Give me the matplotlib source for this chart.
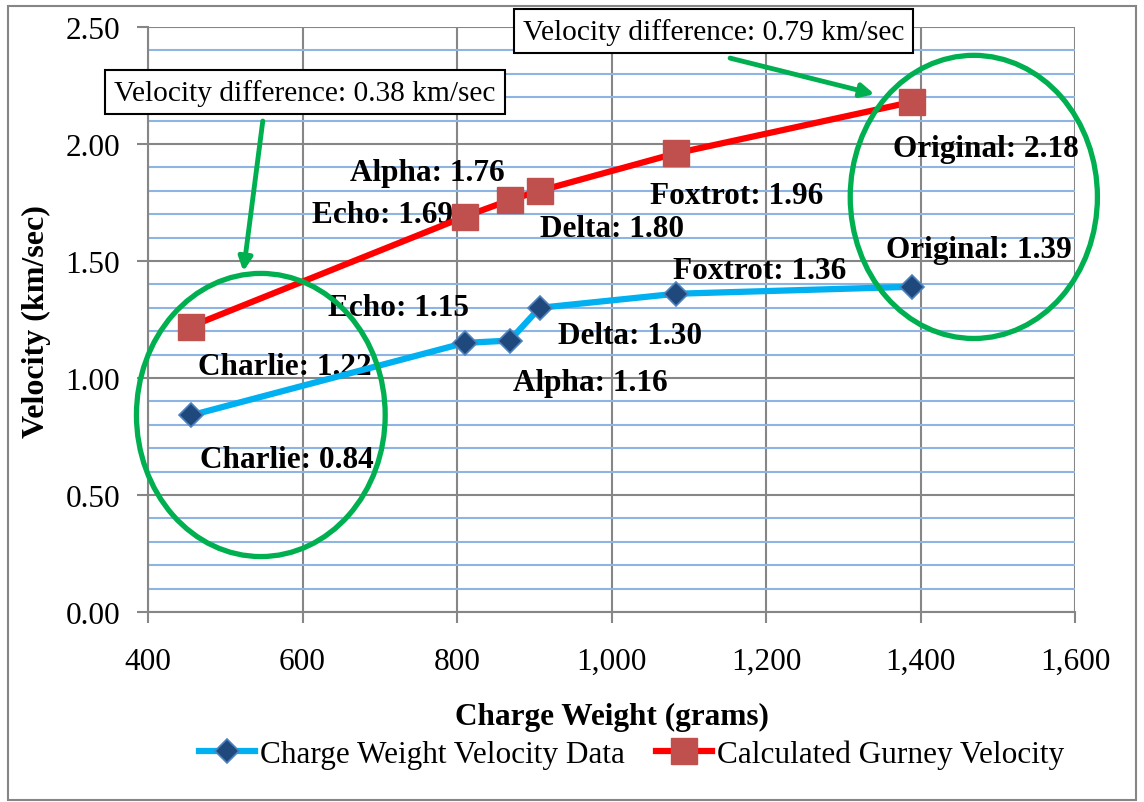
import matplotlib
matplotlib.use('Agg')
import matplotlib.pyplot as plt
from matplotlib.patches import Ellipse, Rectangle
from matplotlib.ticker import FuncFormatter, MultipleLocator

plt.rcParams['font.family'] = ['Liberation Serif', 'DejaVu Serif']

# data
names = ['Charlie', 'Echo', 'Alpha', 'Delta', 'Foxtrot', 'Original']
weight = [455, 810, 868, 907, 1083, 1389]
measured = [0.84, 1.15, 1.16, 1.30, 1.36, 1.39]
gurney = [1.22, 1.69, 1.76, 1.80, 1.96, 2.18]

# label centres (data coords)
measured_lbl_xy = [(580, 0.65), (724, 1.30), (972, 0.98), (1024, 1.18), (1192, 1.46), (1476, 1.55)]
gurney_lbl_xy = [(577, 1.05), (703, 1.70), (762, 1.88), (1001, 1.64), (1162, 1.78), (1485, 1.98)]

fig = plt.figure(figsize=(11.44, 8.03), dpi=100)
ax = fig.add_axes([0.1294, 0.2366, 0.8103, 0.7285])

ax.set_xlim(400, 1600)
ax.set_ylim(0, 2.5)
ax.yaxis.set_major_locator(MultipleLocator(0.5))
ax.yaxis.set_minor_locator(MultipleLocator(0.1))
ax.xaxis.set_major_locator(MultipleLocator(200))
ax.grid(which='minor', axis='y', color='#8db4e2', lw=1.5, zorder=0)
ax.grid(which='major', axis='both', color='#868686', lw=1.5, zorder=0)
ax.set_axisbelow(True)
for s in ['top', 'right']:
    ax.spines[s].set_visible(False)
for s in ['left', 'bottom']:
    ax.spines[s].set_color('#868686')
    ax.spines[s].set_linewidth(1.5)
ax.tick_params(axis='y', which='minor', length=0)
ax.tick_params(axis='y', which='major', length=8, width=1.5, color='#868686', pad=12, labelsize=22.5)
ax.tick_params(axis='x', which='major', length=8, width=1.5, color='#868686', pad=17, labelsize=22.5)
ax.yaxis.set_major_formatter(FuncFormatter(lambda v, p: '%.2f' % v))
ax.xaxis.set_major_formatter(FuncFormatter(lambda v, p: '{:,.0f}'.format(v)))

ax.plot(weight, measured, color='#00b0f0', lw=4.5, marker='D', ms=12,
        mfc='#1f497d', mec='#4f81bd', mew=1.2, zorder=4, label='Charge Weight Velocity Data')
ax.plot(weight, gurney, color='#ff0000', lw=4.5, marker='s', ms=19,
        mfc='#c0504d', mec='#c0504d', zorder=4, label='Calculated Gurney Velocity')

for n, v, (lx, ly) in zip(names, measured, measured_lbl_xy):
    ax.text(lx, ly, '%s: %.2f' % (n, v), ha='center', va='center',
            fontsize=22.5, fontweight='bold', zorder=3)
for n, v, (lx, ly) in zip(names, gurney, gurney_lbl_xy):
    ax.text(lx, ly, '%s: %.2f' % (n, v), ha='center', va='center',
            fontsize=22.5, fontweight='bold', zorder=3)

# highlight circles
ax.add_patch(Ellipse((546, 0.842), 322, 1.21, fill=False, ec='#00b050', lw=3.8,
                     zorder=5, clip_on=False))
ax.add_patch(Ellipse((1469, 1.774), 320, 1.21, fill=False, ec='#00b050', lw=3.8,
                     zorder=5, clip_on=False))

# callouts
box = dict(boxstyle='square,pad=0.3', fc='white', ec='black', lw=1.5)
fig.text(0.2666, 0.884, 'Velocity difference: 0.38 km/sec', ha='center', va='center',
         fontsize=21.2, bbox=box, zorder=6)
fig.text(0.624, 0.960, 'Velocity difference: 0.79 km/sec', ha='center', va='center',
         fontsize=21.2, bbox=box, zorder=6)
arrow = dict(arrowstyle='-|>,head_length=0.8,head_width=0.4', color='#00b050', lw=3.5)
ax.annotate('', xy=(523, 1.444), xytext=(549, 2.11), arrowprops=arrow, annotation_clip=False)
ax.annotate('', xy=(1344, 2.21), xytext=(1150, 2.37), arrowprops=arrow, annotation_clip=False)

fig.text(0.535, 0.107, 'Charge Weight (grams)', ha='center', va='center',
         fontsize=22.5, fontweight='bold')
fig.text(0.032, 0.599, 'Velocity (km/sec)', ha='center', va='center', rotation=90,
         fontsize=23, fontweight='bold')

fig.legend(loc='center', bbox_to_anchor=(0.552, 0.06), ncol=2, frameon=False,
           fontsize=22.5, handlelength=1.8, handletextpad=0.15, columnspacing=1.0)

fig.patches.append(Rectangle((0.007, 0.003), 0.986, 0.988, transform=fig.transFigure,
                             fill=False, ec='#868686', lw=1.5))

fig.savefig('out.png', dpi=100)
